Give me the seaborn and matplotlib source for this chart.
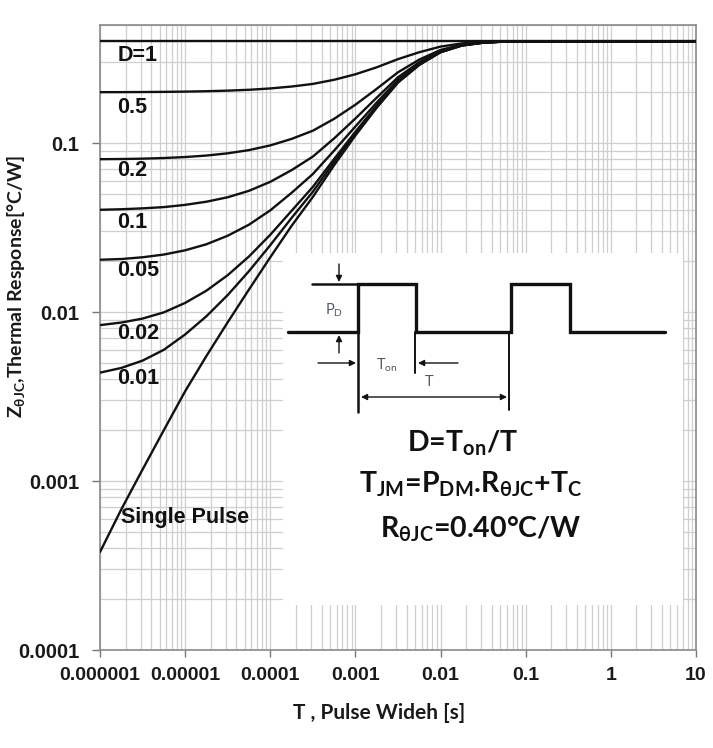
import matplotlib
matplotlib.use("Agg")
import matplotlib.pyplot as plt
import seaborn as sns
import pandas as pd
from matplotlib.ticker import FixedLocator, FixedFormatter, LogLocator, NullFormatter

# ---------------- data ----------------
pulse_width = [1e-6, 1.78e-6, 3.16e-6, 5.62e-6, 1e-5, 1.78e-5, 3.16e-5, 5.62e-5,
               1e-4, 1.78e-4, 3.16e-4, 5.62e-4, 1e-3, 1.78e-3, 3.16e-3, 5.62e-3,
               0.01, 0.0178, 0.0316, 0.0562, 0.1, 1, 10]

z_d1 = [0.4, 0.4, 0.4, 0.4, 0.4, 0.4, 0.4, 0.4, 0.4, 0.4, 0.4, 0.4,
        0.4, 0.4, 0.4, 0.4, 0.4, 0.4, 0.4, 0.4, 0.4, 0.4, 0.4]
z_d05 = [0.2002, 0.2003, 0.2006, 0.2010, 0.2017, 0.2028, 0.2044, 0.2068,
         0.2106, 0.2162, 0.2240, 0.2370, 0.2555, 0.2810, 0.3140, 0.3450,
         0.3725, 0.3890, 0.3965, 0.3995, 0.4, 0.4, 0.4]
z_d02 = [0.0803, 0.0805, 0.0809, 0.0816, 0.0827, 0.0844, 0.0870, 0.0909,
         0.0969, 0.1059, 0.1184, 0.1392, 0.1688, 0.2096, 0.2624, 0.3120,
         0.3560, 0.3824, 0.3944, 0.3992, 0.4, 0.4, 0.4]
z_d01 = [0.0403, 0.0406, 0.0411, 0.0418, 0.0431, 0.0450, 0.0478, 0.0522,
         0.0590, 0.0692, 0.0832, 0.1066, 0.1399, 0.1858, 0.2452, 0.3010,
         0.3505, 0.3802, 0.3937, 0.3991, 0.4, 0.4, 0.4]
z_d005 = [0.0204, 0.0206, 0.0211, 0.0219, 0.0232, 0.0252, 0.0283, 0.0329,
          0.0400, 0.0508, 0.0656, 0.0903, 0.1255, 0.1739, 0.2366, 0.2955,
          0.3478, 0.3791, 0.3934, 0.3991, 0.4, 0.4, 0.4]
z_d002 = [0.00837, 0.00867, 0.00915, 0.00996, 0.01133, 0.01339, 0.01653, 0.02133,
          0.02868, 0.03975, 0.05504, 0.08052, 0.1168, 0.1668, 0.2314, 0.2922,
          0.3461, 0.3784, 0.3931, 0.3990, 0.4, 0.4, 0.4]
z_d001 = [0.00438, 0.00467, 0.00516, 0.00598, 0.00737, 0.00945, 0.01261, 0.01746,
          0.02489, 0.03608, 0.05152, 0.07726, 0.1139, 0.1644, 0.2297, 0.2911,
          0.3456, 0.3782, 0.3931, 0.3990, 0.4, 0.4, 0.4]
z_single = [0.00038, 0.00068, 0.00117, 0.0020, 0.0034, 0.0055, 0.0087, 0.0136,
            0.0211, 0.0324, 0.048, 0.074, 0.111, 0.162, 0.228, 0.290,
            0.345, 0.378, 0.393, 0.399, 0.4, 0.4, 0.4]

curve_names = ["D=1", "0.5", "0.2", "0.1", "0.05", "0.02", "0.01", "Single Pulse"]
curve_values = [z_d1, z_d05, z_d02, z_d01, z_d005, z_d002, z_d001, z_single]

label_x = [1.6e-6, 1.6e-6, 1.6e-6, 1.6e-6, 1.6e-6, 1.6e-6, 1.6e-6, 1.75e-6]
label_y = [0.332, 0.163, 0.0692, 0.0341, 0.0177, 0.00751, 0.00406, 0.000612]

x_ticks = [1e-6, 1e-5, 1e-4, 1e-3, 1e-2, 1e-1, 1, 10]
x_ticklabels = ["0.000001", "0.00001", "0.0001", "0.001", "0.01", "0.1", "1", "10"]
y_ticks = [1e-4, 1e-3, 1e-2, 1e-1]
y_ticklabels = ["0.0001", "0.001", "0.01", "0.1"]

rows = []
for name, vals in zip(curve_names, curve_values):
    for t, z in zip(pulse_width, vals):
        rows.append({"t": t, "z": z, "curve": name})
df = pd.DataFrame(rows)

# ---------------- style ----------------
sns.set_style("white")
plt.rcParams["font.family"] = ["Liberation Sans", "DejaVu Sans"]
plt.rcParams["mathtext.fontset"] = "custom"
plt.rcParams["mathtext.rm"] = "Lato"
plt.rcParams["mathtext.bf"] = "Lato:bold"
plt.rcParams["mathtext.it"] = "Lato:italic"

W, H = 713, 748
fig = plt.figure(figsize=(W / 100, H / 100), dpi=100)
ax = fig.add_axes([100 / W, 1 - 650 / H, 596 / W, 625 / H])
ax.set_xscale("log")
ax.set_yscale("log")

sns.lineplot(data=df, x="t", y="z", hue="curve", hue_order=curve_names,
             palette=["#111111"] * len(curve_names), estimator=None, sort=False,
             legend=False, linewidth=1.7, ax=ax, zorder=3)

ax.set_xlim(1e-6, 10)
ax.set_ylim(1e-4, 0.5)

ax.xaxis.set_major_locator(FixedLocator(x_ticks))
ax.xaxis.set_major_formatter(FixedFormatter(x_ticklabels))
ax.yaxis.set_major_locator(FixedLocator(y_ticks))
ax.yaxis.set_major_formatter(FixedFormatter(y_ticklabels))
ax.xaxis.set_minor_locator(LogLocator(base=10, subs=[2, 3, 4, 5, 6, 7, 8, 9], numticks=20))
ax.yaxis.set_minor_locator(LogLocator(base=10, subs=[2, 3, 4, 5, 6, 7, 8, 9], numticks=20))
ax.xaxis.set_minor_formatter(NullFormatter())
ax.yaxis.set_minor_formatter(NullFormatter())

ax.grid(which="both", color="#cfcfcf", linewidth=0.9)
ax.set_axisbelow(True)
ax.tick_params(which="major", axis="y", length=6, width=1, color="#777777", pad=9,
               labelsize=14.5, labelcolor="#1a1a1a", left=True)
ax.tick_params(which="major", axis="x", length=5, width=1, color="#777777", pad=7,
               labelsize=14, labelcolor="#1a1a1a", bottom=True)
ax.tick_params(which="minor", length=0)
for lab in ax.get_xticklabels() + ax.get_yticklabels():
    lab.set_fontweight("bold")
for s in ax.spines.values():
    s.set_color("#8a8a8a")
    s.set_linewidth(1.2)

for name, lx, ly in zip(curve_names, label_x, label_y):
    ax.text(lx, ly, name, ha="left", va="center", fontsize=15.5,
            fontweight="bold", color="#111111", zorder=4)

ax.set_xlabel("T , Pulse Wideh [s]", fontsize=15, fontweight="bold",
              family=["Lato", "DejaVu Sans"], color="#1a1a1a")
ax.xaxis.set_label_coords((379 - 100) / 596, (650 - 703) / 625)
ax.set_ylabel(r"Z$_{\mathregular{\theta JC}}$,Thermal Response[°C/W]", fontsize=14,
              fontweight="bold", family=["Lato", "DejaVu Sans"], color="#1a1a1a")
ax.yaxis.set_label_coords((27 - 100) / 596, (650 - 286) / 625)

# ---------------- inset (pulse diagram) ----------------
x0, x1, y0, y1 = 283, 683, 253, 605
axi = fig.add_axes([x0 / W, 1 - y1 / H, (x1 - x0) / W, (y1 - y0) / H])
axi.set_xlim(x0, x1)
axi.set_ylim(y1, y0)
axi.set_facecolor("white")
axi.set_xticks([])
axi.set_yticks([])
for s in axi.spines.values():
    s.set_visible(False)

lo, hi = 332, 284
wave_x = [288, 358, 358, 416, 416, 511, 511, 570, 570, 665]
wave_y = [lo, lo, hi, hi, lo, lo, hi, hi, lo, lo]
axi.plot(wave_x, wave_y, color="#111111", lw=2.4, solid_joinstyle="miter")
axi.plot([312, 358], [hi, hi], color="#111111", lw=1.8)
axi.plot([358, 358], [lo, 412], color="#111111", lw=1.8)
axi.plot([415, 415], [lo, 373], color="#111111", lw=1.4)
axi.plot([509, 509], [lo, 410], color="#111111", lw=1.4)

arr = dict(arrowstyle="-|>", color="#111111", lw=1.0, mutation_scale=9, shrinkA=0, shrinkB=0)
axi.annotate("", xy=(339, 282), xytext=(339, 264), arrowprops=arr)
axi.annotate("", xy=(339, 335), xytext=(339, 353), arrowprops=arr)
axi.annotate("", xy=(356, 363), xytext=(318, 363), arrowprops=arr)
axi.annotate("", xy=(418, 363), xytext=(458, 363), arrowprops=arr)
axi.annotate("", xy=(507, 397), xytext=(361, 397),
             arrowprops=dict(arrowstyle="<|-|>", color="#111111", lw=1.0,
                             mutation_scale=9, shrinkA=0, shrinkB=0))

small_col = "#4d5866"
axi.text(334, 310, r"P$_{\mathregular{D}}$", ha="center", va="center", fontsize=10.5,
         color=small_col, family=["Lato", "DejaVu Sans"])
axi.text(387, 365, r"T$_{\mathregular{on}}$", ha="center", va="center", fontsize=10.5,
         color=small_col, family=["Lato", "DejaVu Sans"])
axi.text(429, 382, "T", ha="center", va="center", fontsize=10.5,
         color=small_col, family=["Lato", "DejaVu Sans"])

big = dict(ha="center", va="center", fontsize=20.5, fontweight="bold",
           color="#111111", family=["Lato", "DejaVu Sans"])
axi.text(462, 443, r"D=T$_{\mathregular{on}}$/T", **big)
axi.text(471, 484, r"T$_{\mathregular{JM}}$=P$_{\mathregular{DM}}$.R$_{\mathregular{\theta JC}}$+T$_{\mathregular{C}}$", **big)
axi.text(481, 529, r"R$_{\mathregular{\theta JC}}$=0.40°C/W", **big)

fig.savefig("out.png", dpi=100, facecolor="white")
